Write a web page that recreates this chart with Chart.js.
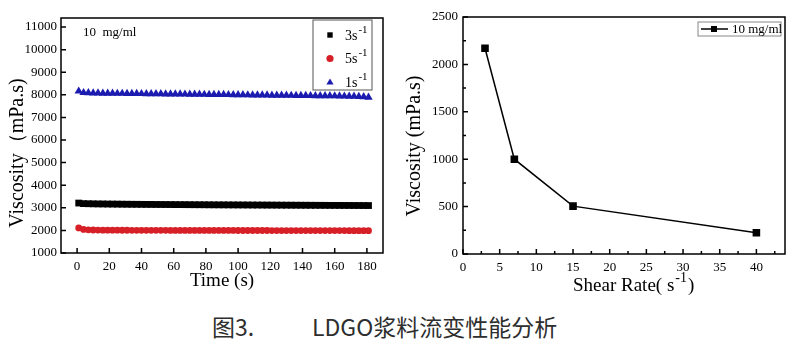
<!DOCTYPE html>
<html>
<head>
<meta charset="utf-8">
<script src="https://cdn.jsdelivr.net/npm/chart.js@4/dist/chart.umd.min.js"></script>
<style>
  body { margin: 0; background: #fff; }
  #wrap { position: relative; width: 800px; height: 350px; overflow: hidden; }
  #left { position: absolute; left: 0; top: 0; }
  #right { position: absolute; left: 400px; top: 0; }
  .cap { position: absolute; top: 309px; font-family: "Noto Sans CJK SC", "Noto Sans", sans-serif; font-size: 23px; color: #2e2e2e; white-space: nowrap; }
</style>
</head>
<body>
<div id="wrap">
  <canvas id="left" width="400" height="300"></canvas>
  <canvas id="right" width="400" height="300"></canvas>
  <div class="cap" style="left:212px">图3.</div>
  <div class="cap" style="left:312px">LDGO浆料流变性能分析</div>
</div>
<script>
// left panel: viscosity vs time, one series per shear rate
const times = [1,4,7,10,13,16,19,22,25,28,31,34,37,40,43,46,49,52,55,58,61,64,67,70,73,76,79,82,85,88,91,94,97,100,103,106,109,112,115,118,121,124,127,130,133,136,139,142,145,148,151,154,157,160,163,166,169,172,175,178,181];
const rate3 = [
  3210,3185,3180,3176,3172,3170,3167,3165,3163,3160,
  3158,3156,3155,3153,3151,3150,3148,3147,3145,3144,
  3142,3141,3140,3138,3137,3136,3135,3133,3132,3131,
  3130,3129,3128,3127,3126,3125,3124,3123,3122,3121,
  3120,3119,3118,3117,3116,3115,3114,3113,3112,3111,
  3110,3109,3108,3107,3106,3105,3104,3103,3102,3101,
  3100];
const rate5 = [
  2110,2045,2025,2018,2014,2012,2010,2009,2008,2007,
  2006,2005,2005,2004,2004,2003,2003,2002,2002,2001,
  2001,2000,2000,2000,1999,1999,1999,1998,1998,1998,
  1997,1997,1997,1996,1996,1996,1995,1995,1995,1995,
  1994,1994,1994,1994,1993,1993,1993,1993,1992,1992,
  1992,1992,1991,1991,1991,1991,1990,1990,1990,1990,
  1990];
const rate1 = [
  8160,8095,8085,8080,8075,8070,8068,8065,8062,8060,
  8057,8055,8052,8050,8047,8045,8042,8040,8037,8035,
  8032,8030,8027,8025,8022,8020,8017,8015,8012,8010,
  8007,8005,8002,8000,7997,7995,7992,7990,7987,7985,
  7982,7980,7977,7975,7972,7970,7967,7965,7962,7960,
  7957,7955,7952,7950,7945,7940,7935,7930,7920,7910,
  7890];
const leftTicksX = [0,20,40,60,80,100,120,140,160,180];
const leftTicksY = [1000,2000,3000,4000,5000,6000,7000,8000,9000,10000,11000];

// right panel: viscosity vs shear rate
const shearRates = [3, 7, 15, 40];
const viscosity = [2170, 1000, 505, 225];
const rightTicksX = [0,5,10,15,20,25,30,35,40];
const rightTicksY = [0,500,1000,1500,2000,2500];

const SERIF = '"Liberation Serif", "Times New Roman", serif';
Chart.defaults.font.family = SERIF;
Chart.defaults.color = '#000';

function pts(xs, ys) { return xs.map((x, i) => ({ x: x, y: ys[i] })); }

// text with a raised "-1"
function supText(ctx, x, y, base, sup, size) {
  ctx.font = size + 'px ' + SERIF;
  ctx.fillText(base, x, y);
  const w = ctx.measureText(base).width;
  ctx.font = Math.round(size * 0.75) + 'px ' + SERIF;
  ctx.fillText(sup, x + w + 1, y - size * 0.45);
  return w + 1 + ctx.measureText(sup).width;
}

// rotated y-axis title
function yTitle(ctx, text, x, y, size) {
  ctx.save();
  ctx.translate(x, y);
  ctx.rotate(-Math.PI / 2);
  ctx.textAlign = 'center';
  ctx.textBaseline = 'middle';
  ctx.fillStyle = '#000';
  ctx.font = size + 'px ' + SERIF;
  ctx.fillText(text, 0, 0);
  ctx.restore();
}

function marker(ctx, style, x, y, r, color) {
  ctx.fillStyle = color;
  ctx.beginPath();
  if (style === 'rect') ctx.rect(x - r * 0.75, y - r * 0.75, r * 1.5, r * 1.5);
  else if (style === 'circle') ctx.arc(x, y, r, 0, Math.PI * 2);
  else { ctx.moveTo(x, y - r); ctx.lineTo(x + r, y + r * 0.7); ctx.lineTo(x - r, y + r * 0.7); ctx.closePath(); }
  ctx.fill();
}

// box around the plot + inward tick marks
const frame = {
  id: 'frame',
  afterDraw(chart, args, opts) {
    const { ctx, chartArea: a, scales } = chart;
    ctx.save();
    ctx.strokeStyle = '#000';
    ctx.lineWidth = 1.5;
    ctx.strokeRect(a.left, a.top, a.right - a.left, a.bottom - a.top);
    ctx.beginPath();
    const xs = scales.x, ys = scales.y;
    xs.ticks.forEach(t => { const p = xs.getPixelForValue(t.value); ctx.moveTo(p, a.bottom); ctx.lineTo(p, a.bottom - 5); });
    ys.ticks.forEach(t => { const p = ys.getPixelForValue(t.value); ctx.moveTo(a.left, p); ctx.lineTo(a.left + 5, p); });
    if (opts.minorX) xs.ticks.forEach(t => {
      const v = t.value + opts.minorX;
      if (v < xs.max) { const p = xs.getPixelForValue(v); ctx.moveTo(p, a.bottom); ctx.lineTo(p, a.bottom - 3); }
    });
    if (opts.minorY) ys.ticks.forEach(t => {
      const v = t.value + opts.minorY;
      if (v < ys.max) { const p = ys.getPixelForValue(v); ctx.moveTo(a.left, p); ctx.lineTo(a.left + 3, p); }
    });
    ctx.stroke();
    ctx.restore();
  }
};

function axis(min, max, step, keep, pad, title) {
  return {
    type: 'linear', min: min, max: max,
    ticks: { stepSize: step, padding: pad, font: { size: 13 }, color: '#000', maxRotation: 0, callback: v => String(v) },
    afterBuildTicks: s => { s.ticks = keep.map(v => ({ value: v })); },
    grid: { display: false, drawTicks: false },
    border: { display: false },
    title: title
  };
}

// left chart
const leftLegend = {
  id: 'leftLegend',
  afterDraw(chart) {
    const { ctx, chartArea: a } = chart;
    ctx.save();
    ctx.strokeStyle = '#555';
    ctx.lineWidth = 1;
    ctx.strokeRect(a.right - 70, a.top + 2, 59, 70);
    const items = [['rect', '#000', '3s'], ['circle', '#d61f26', '5s'], ['triangle', '#1b1bb0', '1s']];
    items.forEach((it, i) => {
      const y = a.top + 17 + i * 23.5;
      marker(ctx, it[0], a.right - 53, y, 3.6, it[1]);
      ctx.fillStyle = '#000';
      ctx.textBaseline = 'middle';
      supText(ctx, a.right - 38, y + 1, it[2], '-1', 14);
    });
    ctx.textBaseline = 'middle';
    ctx.font = '13px ' + SERIF;
    ctx.fillText('10  mg/ml', a.left + 22, a.top + 15);
    yTitle(ctx, 'Viscosity（mPa.s)', 18, 153, 20);
    ctx.restore();
  }
};

new Chart(document.getElementById('left'), {
  type: 'scatter',
  data: {
    datasets: [
      { label: '3s-1', data: pts(times, rate3), pointStyle: 'rect', pointRadius: 4.8, backgroundColor: '#000', borderColor: '#000', borderWidth: 0 },
      { label: '5s-1', data: pts(times, rate5), pointStyle: 'circle', pointRadius: 3.4, backgroundColor: '#d61f26', borderColor: '#d61f26', borderWidth: 0 },
      { label: '1s-1', data: pts(times, rate1), pointStyle: 'triangle', pointRadius: 4.8, backgroundColor: '#1b1bb0', borderColor: '#1b1bb0', borderWidth: 0 }
    ]
  },
  options: {
    responsive: false, animation: false,
    layout: { padding: { top: 18, right: 17, left: 0, bottom: 0 } },
    plugins: { legend: { display: false }, tooltip: { enabled: false }, frame: {} },
    scales: {
      x: Object.assign(axis(-10, 190, 20, leftTicksX, 6,
        { display: true, text: 'Time (s)', font: { size: 19 }, color: '#000', padding: { top: 0, bottom: 8 } }),
        { afterFit: s => { s.height = 47; } }),
      y: Object.assign(axis(1000, 11400, 1000, leftTicksY, 4, { display: false }),
        { afterFit: s => { s.width = 61; } })
    }
  },
  plugins: [frame, leftLegend]
});

// right chart
const rightExtras = {
  id: 'rightExtras',
  afterDraw(chart) {
    const { ctx, chartArea: a } = chart;
    ctx.save();
    ctx.strokeStyle = '#888';
    ctx.lineWidth = 1;
    ctx.strokeRect(a.right - 87, a.top + 5, 83, 14);
    const y = a.top + 12;
    ctx.strokeStyle = '#000';
    ctx.lineWidth = 1.5;
    ctx.beginPath(); ctx.moveTo(a.right - 84, y); ctx.lineTo(a.right - 57, y); ctx.stroke();
    marker(ctx, 'rect', a.right - 71, y, 4, '#000');
    ctx.fillStyle = '#000';
    ctx.textBaseline = 'middle';
    ctx.font = '13px ' + SERIF;
    ctx.fillText('10 mg/ml', a.right - 53, y + 1);
    // x title with superscript
    ctx.textBaseline = 'alphabetic';
    const size = 19;
    const x = a.left + 110;
    const w = supText(ctx, x, 291, 'Shear Rate( s', '-1', size);
    ctx.font = size + 'px ' + SERIF;
    ctx.fillText(')', x + w + 1, 291);
    yTitle(ctx, 'Viscosity (mPa.s)', 15, 146, 20);
    ctx.restore();
  }
};

new Chart(document.getElementById('right'), {
  type: 'line',
  data: {
    datasets: [
      { label: '10 mg/ml', data: pts(shearRates, viscosity), pointStyle: 'rect', pointRadius: 4.3, backgroundColor: '#000', borderColor: '#000', borderWidth: 1.5, tension: 0 }
    ]
  },
  options: {
    responsive: false, animation: false,
    layout: { padding: { top: 17, right: 15, left: 0, bottom: 0 } },
    plugins: { legend: { display: false }, tooltip: { enabled: false }, frame: { minorX: 2.5, minorY: 250 } },
    scales: {
      x: Object.assign(axis(0, 43.9, 5, rightTicksX, 6, { display: false }),
        { afterFit: s => { s.height = 46; } }),
      y: Object.assign(axis(0, 2500, 500, rightTicksY, 5, { display: false }),
        { afterFit: s => { s.width = 63; } })
    }
  },
  plugins: [frame, rightExtras]
});
</script>
</body>
</html>
